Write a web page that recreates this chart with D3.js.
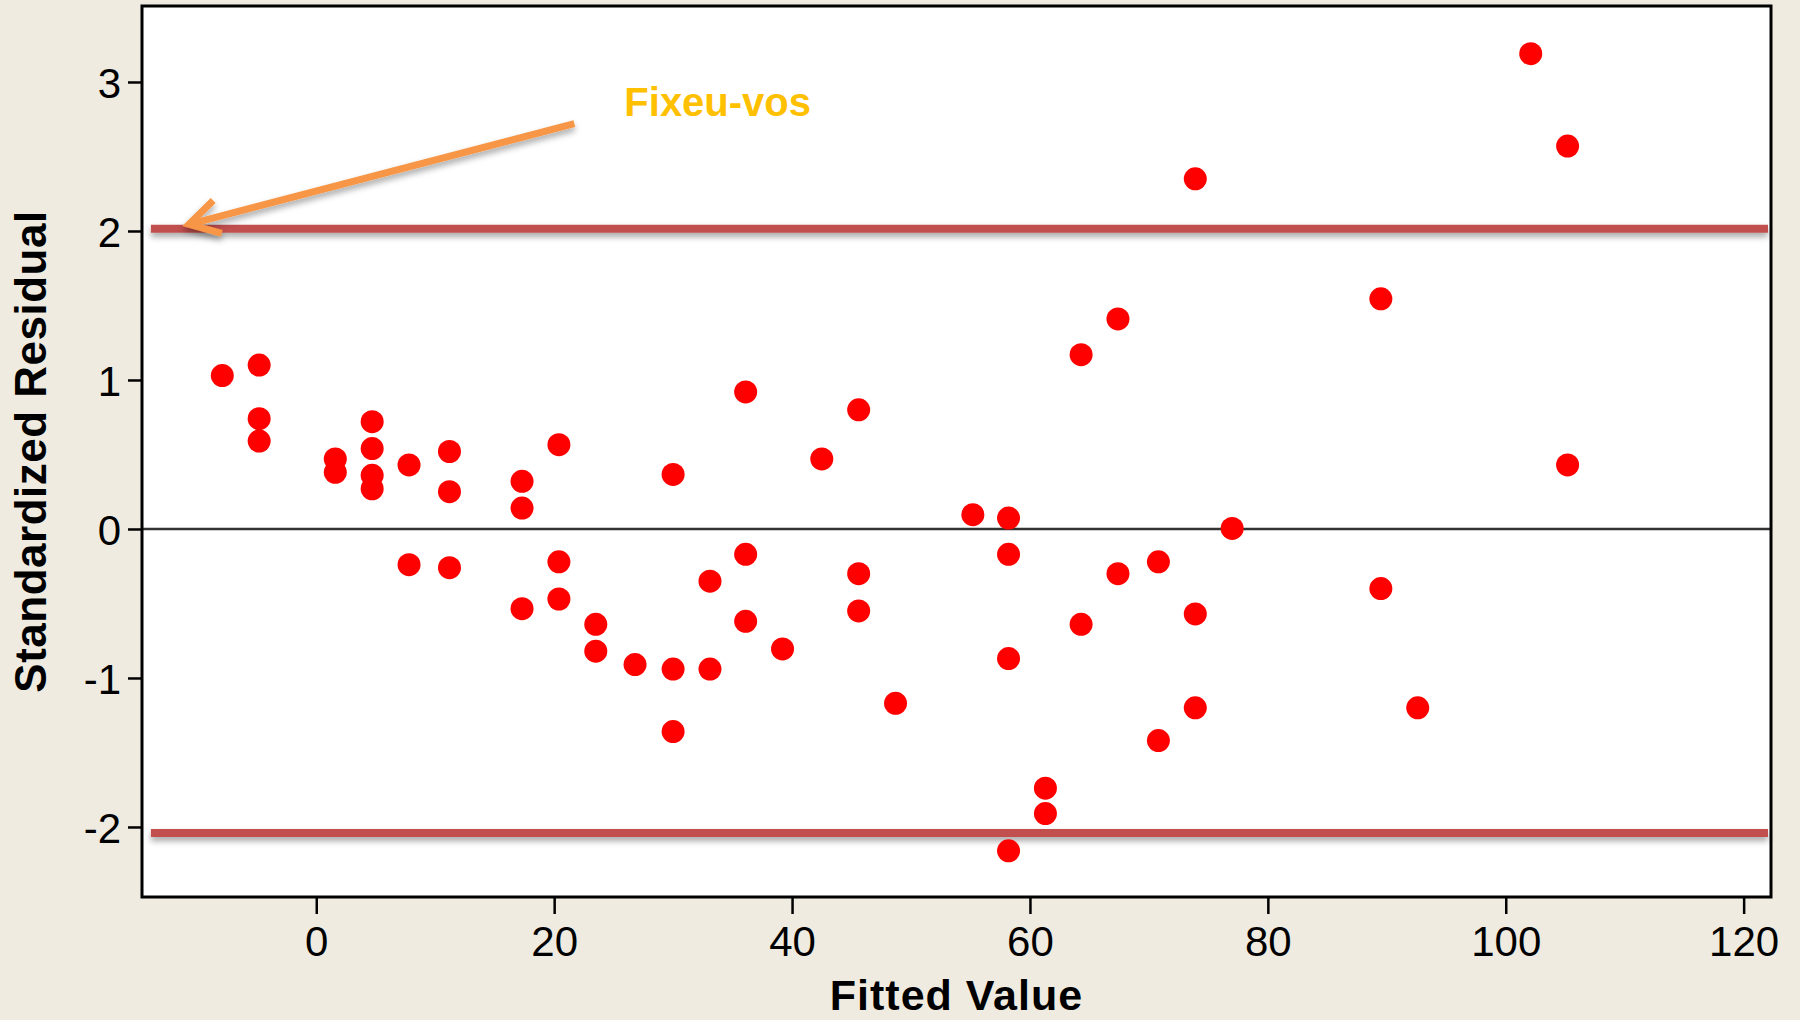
<!DOCTYPE html>
<html>
<head>
<meta charset="utf-8">
<script src="https://cdn.jsdelivr.net/npm/d3@7"></script>
<style>
  body { margin: 0; background: #efebe0; }
  svg { display: block; }
  .tick text { font-family: "Liberation Sans", Arial, sans-serif; font-size: 42px; fill: #000; }
  .title { font-family: "Liberation Sans", Arial, sans-serif; font-weight: bold; fill: #000; }
</style>
</head>
<body>
<svg id="chart" width="1800" height="1020"></svg>
<script>
// fitted values and standardized residuals
const fitted = [
  -7.9, -4.8, -4.8, -4.8, 1.6, 1.6, 4.7, 4.7, 4.7, 4.7,
  7.8, 7.8, 11.2, 11.2, 11.2, 17.3, 17.3, 17.3, 20.4, 20.4,
  20.4, 23.5, 23.5, 26.8, 30.0, 30.0, 30.0, 33.1, 33.1, 36.1,
  36.1, 36.1, 39.2, 42.5, 45.6, 45.6, 45.6, 48.7, 55.2, 58.2,
  58.2, 58.2, 58.2, 61.3, 61.3, 64.3, 64.3, 67.4, 67.4, 70.8,
  70.8, 73.9, 73.9, 73.9, 77.0, 89.5, 89.5, 92.6, 102.1, 105.2,
  105.2
];
const residual = [
  1.03, 1.10, 0.74, 0.59, 0.47, 0.38, 0.72, 0.54, 0.36, 0.27,
  0.43, -0.24, 0.52, 0.25, -0.26, 0.32, 0.14, -0.535, 0.566, -0.22,
  -0.47, -0.64, -0.82, -0.91, 0.366, -0.94, -1.36, -0.35, -0.94, 0.92,
  -0.17, -0.62, -0.805, 0.47, 0.80, -0.30, -0.55, -1.17, 0.096, 0.073,
  -0.17, -0.87, -2.16, -1.74, -1.91, 1.17, -0.64, 1.41, -0.30, -0.22,
  -1.42, 2.35, -0.57, -1.20, 0.004, 1.545, -0.40, -1.20, 3.19, 2.57,
  0.43
];
const xTicks = [0, 20, 40, 60, 80, 100, 120];
const yTicks = [-2, -1, 0, 1, 2, 3];
const limitLines = [2.015, -2.04];
// annotation: arrow start, arrow tip, label anchor (data units)
const arrowFrom = [21.7, 2.72];
const arrowTo = [-10.7, 2.045];
const noteAt = [25.9, 2.77];
const noteText = "Fixeu-vos";

const svg = d3.select("#chart");
const margin = { top: 6, right: 29, bottom: 123, left: 142 };
const W = 1800, H = 1020;

const x = d3.scaleLinear().domain([-14.65, 122.3]).range([margin.left, W - margin.right]);
const y = d3.scaleLinear().domain([-2.47, 3.51]).range([H - margin.bottom, margin.top]);

// drop shadow in user space so flat lines still get it
const defs = svg.append("defs");
const shadow = defs.append("filter").attr("id", "shadow")
  .attr("filterUnits", "userSpaceOnUse")
  .attr("x", 0).attr("y", 0).attr("width", W).attr("height", H);
shadow.append("feDropShadow")
  .attr("dx", 0).attr("dy", 4).attr("stdDeviation", 3)
  .attr("flood-color", "#000").attr("flood-opacity", 0.35);

// plot area
svg.append("rect")
  .attr("x", x.range()[0]).attr("y", y.range()[1])
  .attr("width", x.range()[1] - x.range()[0])
  .attr("height", y.range()[0] - y.range()[1])
  .attr("fill", "#fff");

// zero line
svg.append("line")
  .attr("x1", x.range()[0]).attr("x2", x.range()[1])
  .attr("y1", y(0)).attr("y2", y(0))
  .attr("stroke", "#333").attr("stroke-width", 2.5);

// +-2 reference lines
svg.selectAll(".limit")
  .data(limitLines)
  .join("line")
  .attr("class", "limit")
  .attr("x1", x(-13.9)).attr("x2", x.range()[1] - 3)
  .attr("y1", d => y(d)).attr("y2", d => y(d))
  .attr("stroke", "#c0504d").attr("stroke-width", 8)
  .attr("filter", "url(#shadow)");

// points
svg.selectAll(".dot")
  .data(fitted.map((f, i) => [f, residual[i]]))
  .join("circle")
  .attr("class", "dot")
  .attr("cx", d => x(d[0]))
  .attr("cy", d => y(d[1]))
  .attr("r", 11.5)
  .attr("fill", "#ff0000");

// frame
svg.append("rect")
  .attr("x", x.range()[0]).attr("y", y.range()[1])
  .attr("width", x.range()[1] - x.range()[0])
  .attr("height", y.range()[0] - y.range()[1])
  .attr("fill", "none")
  .attr("stroke", "#000").attr("stroke-width", 3);

// axes
const xAxis = svg.append("g")
  .attr("transform", `translate(0,${y.range()[0]})`)
  .call(d3.axisBottom(x).tickValues(xTicks).tickSize(17).tickPadding(12).tickFormat(d => String(d)));
const yAxis = svg.append("g")
  .attr("transform", `translate(${x.range()[0]},0)`)
  .call(d3.axisLeft(y).tickValues(yTicks).tickSize(14).tickPadding(7).tickFormat(d => String(d)));
[xAxis, yAxis].forEach(g => {
  g.select(".domain").remove();
  g.selectAll(".tick line").attr("stroke", "#000").attr("stroke-width", 2.5);
});
yAxis.selectAll(".tick text").attr("dy", "0.36em");

// axis titles
svg.append("text")
  .attr("class", "title")
  .attr("x", (x.range()[0] + x.range()[1]) / 2)
  .attr("y", 1010)
  .attr("text-anchor", "middle")
  .style("font-size", "43px")
  .style("letter-spacing", "1px")
  .text("Fitted Value");

svg.append("text")
  .attr("class", "title")
  .attr("transform", `translate(46,${(y.range()[0] + y.range()[1]) / 2}) rotate(-90)`)
  .attr("text-anchor", "middle")
  .style("font-size", "44px")
  .style("letter-spacing", "0.5px")
  .text("Standardized Residual");

// annotation arrow
const p0 = [x(arrowFrom[0]), y(arrowFrom[1])];
const p1 = [x(arrowTo[0]), y(arrowTo[1])];
const ang = Math.atan2(p0[1] - p1[1], p0[0] - p1[0]);
const armLen = 34, spread = Math.PI / 6;
const arm = a => [p1[0] + armLen * Math.cos(a), p1[1] + armLen * Math.sin(a)];
const arrow = svg.append("g").attr("filter", "url(#shadow)");
arrow.append("line")
  .attr("x1", p0[0]).attr("y1", p0[1])
  .attr("x2", p1[0] + 4 * Math.cos(ang)).attr("y2", p1[1] + 4 * Math.sin(ang))
  .attr("stroke", "#f79646").attr("stroke-width", 7);
arrow.append("path")
  .attr("d", d3.line()([arm(ang - spread), p1, arm(ang + spread)]))
  .attr("fill", "none")
  .attr("stroke", "#f79646").attr("stroke-width", 7)
  .attr("stroke-linejoin", "miter");

svg.append("text")
  .attr("x", x(noteAt[0])).attr("y", y(noteAt[1]))
  .attr("fill", "#ffc000")
  .style("font-family", "'Liberation Sans', Arial, sans-serif")
  .style("font-weight", "bold")
  .style("font-size", "40px")
  .text(noteText);
</script>
</body>
</html>
